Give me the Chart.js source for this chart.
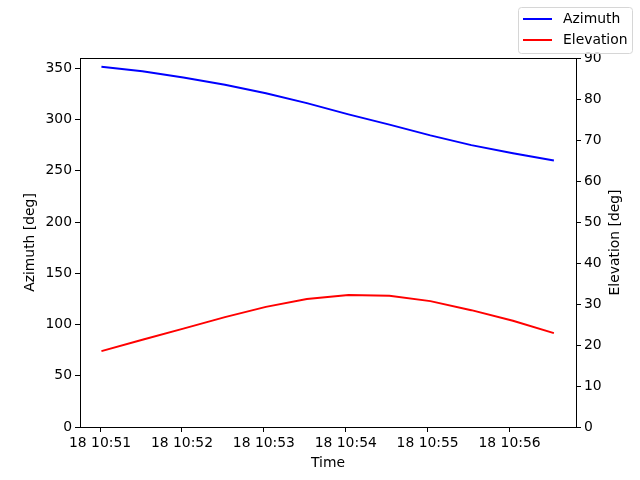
<!DOCTYPE html>
<html>
<head>
<meta charset="utf-8">
<script src="https://cdn.jsdelivr.net/npm/chart.js@4"></script>
<style>
  html, body { margin: 0; padding: 0; background: #fff; }
  #wrap { width: 640px; height: 480px; }
</style>
</head>
<body>
<div id="wrap"><canvas id="azEl"></canvas></div>
<script>
// seconds after 18 10:51:00
const times = [1, 31, 61, 91.5, 121.5, 151.5, 182, 212, 242, 272, 302.5, 332.5];
const azimuth = [351.5, 347, 341, 334, 325.6, 316, 305, 295, 284.5, 275, 267, 260];
const elevation = [18.5, 21.3, 24.0, 26.8, 29.3, 31.2, 32.2, 32.0, 30.7, 28.5, 25.9, 22.9];
const timeTicks = [0, 60, 120, 180, 240, 300];
const timeLabels = ["18 10:51", "18 10:52", "18 10:53", "18 10:54", "18 10:55", "18 10:56"];

const FONT = { family: "DejaVu Sans", size: 13.9 };

function pairs(xs, ys) {
  return xs.map((x, i) => ({ x: x, y: ys[i] }));
}

// matplotlib-like frame round the axes, plus the right axis label read bottom-up
const framePlugin = {
  id: "frame",
  afterDatasetsDraw(chart) {
    const a = chart.chartArea;
    const ctx = chart.ctx;
    ctx.save();
    ctx.strokeStyle = "#000";
    ctx.lineWidth = 1;
    ctx.strokeRect(a.left + 0.5, a.top + 0.5, a.right - a.left, a.bottom - a.top);
    ctx.translate(615, (a.top + a.bottom) / 2);
    ctx.rotate(-Math.PI / 2);
    ctx.font = FONT.size + "px " + FONT.family;
    ctx.fillStyle = "#000";
    ctx.textAlign = "center";
    ctx.textBaseline = "middle";
    ctx.fillText("Elevation [deg]", 0, 0);
    ctx.restore();
  },
};

// figure legend in the top right corner
const figLegend = {
  id: "figLegend",
  afterDraw(chart) {
    const ctx = chart.ctx;
    const x = 518, y = 7, w = 114, h = 46;
    ctx.save();
    ctx.fillStyle = "rgba(255,255,255,0.8)";
    ctx.strokeStyle = "#d6d6d6";
    ctx.lineWidth = 1;
    ctx.beginPath();
    ctx.roundRect(x + 0.5, y + 0.5, w, h, 3);
    ctx.fill();
    ctx.stroke();
    ctx.font = FONT.size + "px " + FONT.family;
    ctx.textBaseline = "middle";
    chart.data.datasets.forEach((ds, i) => {
      const ly = y + 12 + i * 21;
      ctx.strokeStyle = ds.borderColor;
      ctx.lineWidth = 2;
      ctx.beginPath();
      ctx.moveTo(x + 5, ly);
      ctx.lineTo(x + 34, ly);
      ctx.stroke();
      ctx.fillStyle = "#000";
      ctx.fillText(ds.label, x + 45, ly);
    });
    ctx.restore();
  },
};

const axisBase = {
  border: { display: true, color: "#000", width: 1 },
  grid: { display: true, drawOnChartArea: false, drawTicks: true, tickLength: 5, color: "#000" },
  ticks: { color: "#000", font: FONT, padding: 3 },
};

new Chart(document.getElementById("azEl").getContext("2d"), {
  type: "line",
  data: {
    datasets: [
      {
        label: "Azimuth",
        data: pairs(times, azimuth),
        borderColor: "#0000ff",
        borderWidth: 2,
        pointRadius: 0,
        tension: 0,
        yAxisID: "yAz",
      },
      {
        label: "Elevation",
        data: pairs(times, elevation),
        borderColor: "#ff0000",
        borderWidth: 2,
        pointRadius: 0,
        tension: 0,
        yAxisID: "yEl",
      },
    ],
  },
  options: {
    responsive: true,
    maintainAspectRatio: false,
    animation: false,
    layout: { padding: { top: 58, left: 0, right: 0, bottom: 0 } },
    plugins: {
      legend: { display: false },
      tooltip: { enabled: false },
    },
    scales: {
      x: {
        ...axisBase,
        type: "linear",
        min: -14.7,
        max: 348.7,
        afterBuildTicks: (scale) => {
          scale.ticks = timeTicks.map((v) => ({ value: v }));
        },
        ticks: {
          ...axisBase.ticks,
          maxRotation: 0,
          callback: (v) => timeLabels[timeTicks.indexOf(v)],
        },
        title: { display: true, text: "Time", color: "#000", font: FONT, padding: { top: 4, bottom: 8 } },
        afterFit: (scale) => { scale.height = 53; },
      },
      yAz: {
        ...axisBase,
        position: "left",
        min: 0,
        max: 360,
        ticks: { ...axisBase.ticks, stepSize: 50 },
        afterBuildTicks: (scale) => {
          scale.ticks = [0, 50, 100, 150, 200, 250, 300, 350].map((v) => ({ value: v }));
        },
        title: { display: true, text: "Azimuth [deg]", color: "#000", font: FONT, padding: { top: 22, bottom: 4 } },
        afterFit: (scale) => { scale.width = 80; },
      },
      yEl: {
        ...axisBase,
        position: "right",
        min: 0,
        max: 90,
        ticks: { ...axisBase.ticks, stepSize: 10 },
        afterFit: (scale) => { scale.width = 64; },
      },
    },
  },
  plugins: [framePlugin, figLegend],
});
</script>
</body>
</html>
